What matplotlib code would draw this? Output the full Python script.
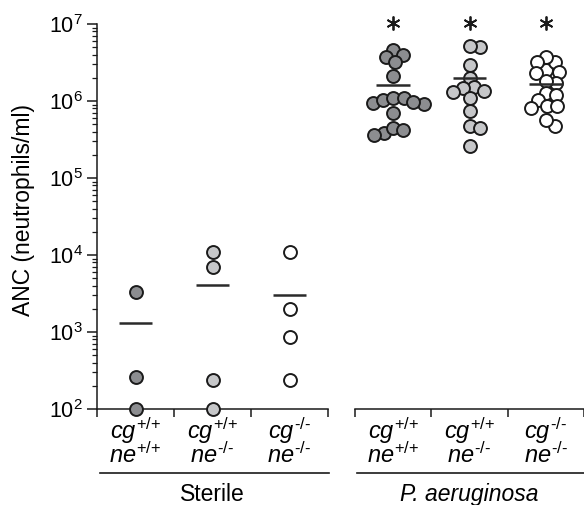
import numpy as np
import matplotlib
matplotlib.use("Agg")
import matplotlib.pyplot as plt

plt.rcParams['font.family'] = ['Liberation Sans', 'DejaVu Sans']
plt.rcParams['mathtext.fontset'] = 'custom'
plt.rcParams['mathtext.rm'] = 'Liberation Sans'
plt.rcParams['mathtext.it'] = 'Liberation Sans:italic'
plt.rcParams['mathtext.bf'] = 'Liberation Sans:bold'

# ---------------- data ----------------
cg_genotype = ["+/+", "+/+", "-/-"]
ne_genotype = ["+/+", "-/-", "-/-"]
conditions = ["Sterile", "P. aeruginosa"]

sterile_wt = [3300, 260, 100]
sterile_ne = [11000, 7000, 240, 100]
sterile_cgne = [11000, 2000, 850, 240]
sterile_means = [1300, 4100, 3000]

pa_wt = [4.6e6, 3.7e6, 4.0e6, 3.2e6, 2.1e6, 9.4e5, 1.03e6, 1.1e6, 1.1e6,
         9.2e5, 9.7e5, 6.9e5, 3.8e5, 4.5e5, 4.2e5, 3.6e5]
pa_ne = [5.0e6, 5.2e6, 2.9e6, 2.0e6, 1.5e6, 1.46e6, 1.36e6, 1.3e6, 1.1e6,
         7.4e5, 4.7e5, 4.5e5, 2.6e5]
pa_cgne = [2.5e6, 3.2e6, 3.7e6, 3.2e6, 2.4e6, 2.3e6, 1.7e6, 1.8e6, 1.26e6,
           1.2e6, 1.02e6, 8.0e5, 8.5e5, 8.5e5, 4.8e5, 5.6e5]
pa_means = [1.6e6, 2.0e6, 1.66e6]
pa_significant = [True, True, True]

fills = ['#8c8d90', '#c6c7c9', '#ffffff']
edge = '#1a1a1a'

# ---------------- figure ----------------
W, H = 584, 505
fig = plt.figure(figsize=(W / 100, H / 100), dpi=100)
axL = fig.add_axes([97 / W, 96 / H, 231 / W, 385 / H])
axR = fig.add_axes([355 / W, 96 / H, 229 / W, 385 / H])

for ax in (axL, axR):
    ax.set_yscale('log')
    ax.set_ylim(1e2, 1e7)
    ax.set_xlim(0, 3)
    ax.spines['top'].set_visible(False)
    ax.spines['right'].set_visible(False)
    ax.spines['bottom'].set_linewidth(1.1)
    ax.spines['bottom'].set_color(edge)
    ax.set_xticks([0, 1, 2, 3])
    ax.set_xticklabels([])
    ax.tick_params(axis='x', direction='out', length=6, width=1.1, color=edge)
    ax.patch.set_alpha(0)

axL.spines['left'].set_linewidth(1.1)
axL.spines['left'].set_color(edge)
axL.set_yticks([1e2, 1e3, 1e4, 1e5, 1e6, 1e7])
axL.tick_params(axis='y', which='major', direction='out', length=7, width=1.1,
                color=edge, labelsize=15.5, pad=3)
axL.tick_params(axis='y', which='minor', direction='out', length=3.5, width=0.9,
                color=edge)
axR.spines['left'].set_visible(False)
axR.tick_params(axis='y', which='both', left=False, labelleft=False)

fig.canvas.draw()

MS = 9.3
MEW = 1.4


def swarm(ax, xc, values, d_px):
    vals = np.asarray(values, dtype=float)
    pts = ax.transData.transform(np.column_stack([np.full(len(vals), xc), vals]))
    ys = pts[:, 1]
    order = np.argsort(-ys, kind='stable')
    placed = []
    offs = np.zeros(len(vals))
    for i in order:
        y = ys[i]
        cands = [0.0]
        for xo, yo in placed:
            dy = y - yo
            if abs(dy) < d_px:
                dx = np.sqrt(d_px ** 2 - dy ** 2)
                cands += [xo + dx, xo - dx]
        cands.sort(key=abs)
        chosen = cands[-1]
        for c in cands:
            if all((c - xo) ** 2 + (y - yo) ** 2 >= d_px ** 2 - 1e-6 for xo, yo in placed):
                chosen = c
                break
        placed.append((chosen, y))
        offs[i] = chosen
    px_per_unit = ax.transData.transform((1, 1e3))[0] - ax.transData.transform((0, 1e3))[0]
    return xc + offs / px_per_unit


def draw_group(ax, groups, means, d_px):
    for k, (vals, m) in enumerate(zip(groups, means)):
        xc = k + 0.5
        xs = swarm(ax, xc, vals, d_px)
        ax.plot(xs, vals, 'o', ms=MS, mfc=fills[k], mec=edge, mew=MEW,
                clip_on=False, zorder=3)
        ax.hlines(m, xc - 0.22, xc + 0.22, color='#2a2a2a', lw=1.8, zorder=4)


draw_group(axL, [sterile_wt, sterile_ne, sterile_cgne], sterile_means, 13)
draw_group(axR, [pa_wt, pa_ne, pa_cgne], pa_means, 10.5)

# significance asterisks
for k, sig in enumerate(pa_significant):
    if sig:
        axR.plot([k + 0.5], [1.04e7], marker=(6, 2, 0), ms=10, mew=1.3,
                 color=edge, clip_on=False, linestyle='none')


def sup(base, s):
    return r'$\mathit{%s}^{\text{%s}}$' % (base, s)


# category labels, brackets, condition names
for ax, cond, italic, x0, x1 in ((axL, conditions[0], False, 0.04, 3.01),
                                 (axR, conditions[1], True, 0.03, 3.0)):
    tr = ax.get_xaxis_transform()
    for k in range(3):
        label = sup('cg', cg_genotype[k]) + '\n' + sup('ne', ne_genotype[k])
        ax.text(k + 0.5, -0.086, label, transform=tr, ha='center',
                va='center', multialignment='center', fontsize=17,
                linespacing=0.82, clip_on=False)
    ax.plot([x0, x1], [-0.166, -0.166], transform=tr, color=edge, lw=1.2,
            clip_on=False)
    ax.text(1.5, -0.221, cond, transform=tr, ha='center', va='center',
            fontsize=16.5, style='italic' if italic else 'normal', clip_on=False)

fig.text(23.5 / W, 1 - 210 / H, 'ANC (neutrophils/ml)', rotation=90,
         ha='center', va='center', fontsize=16.5)

fig.savefig('out.png', dpi=100)
